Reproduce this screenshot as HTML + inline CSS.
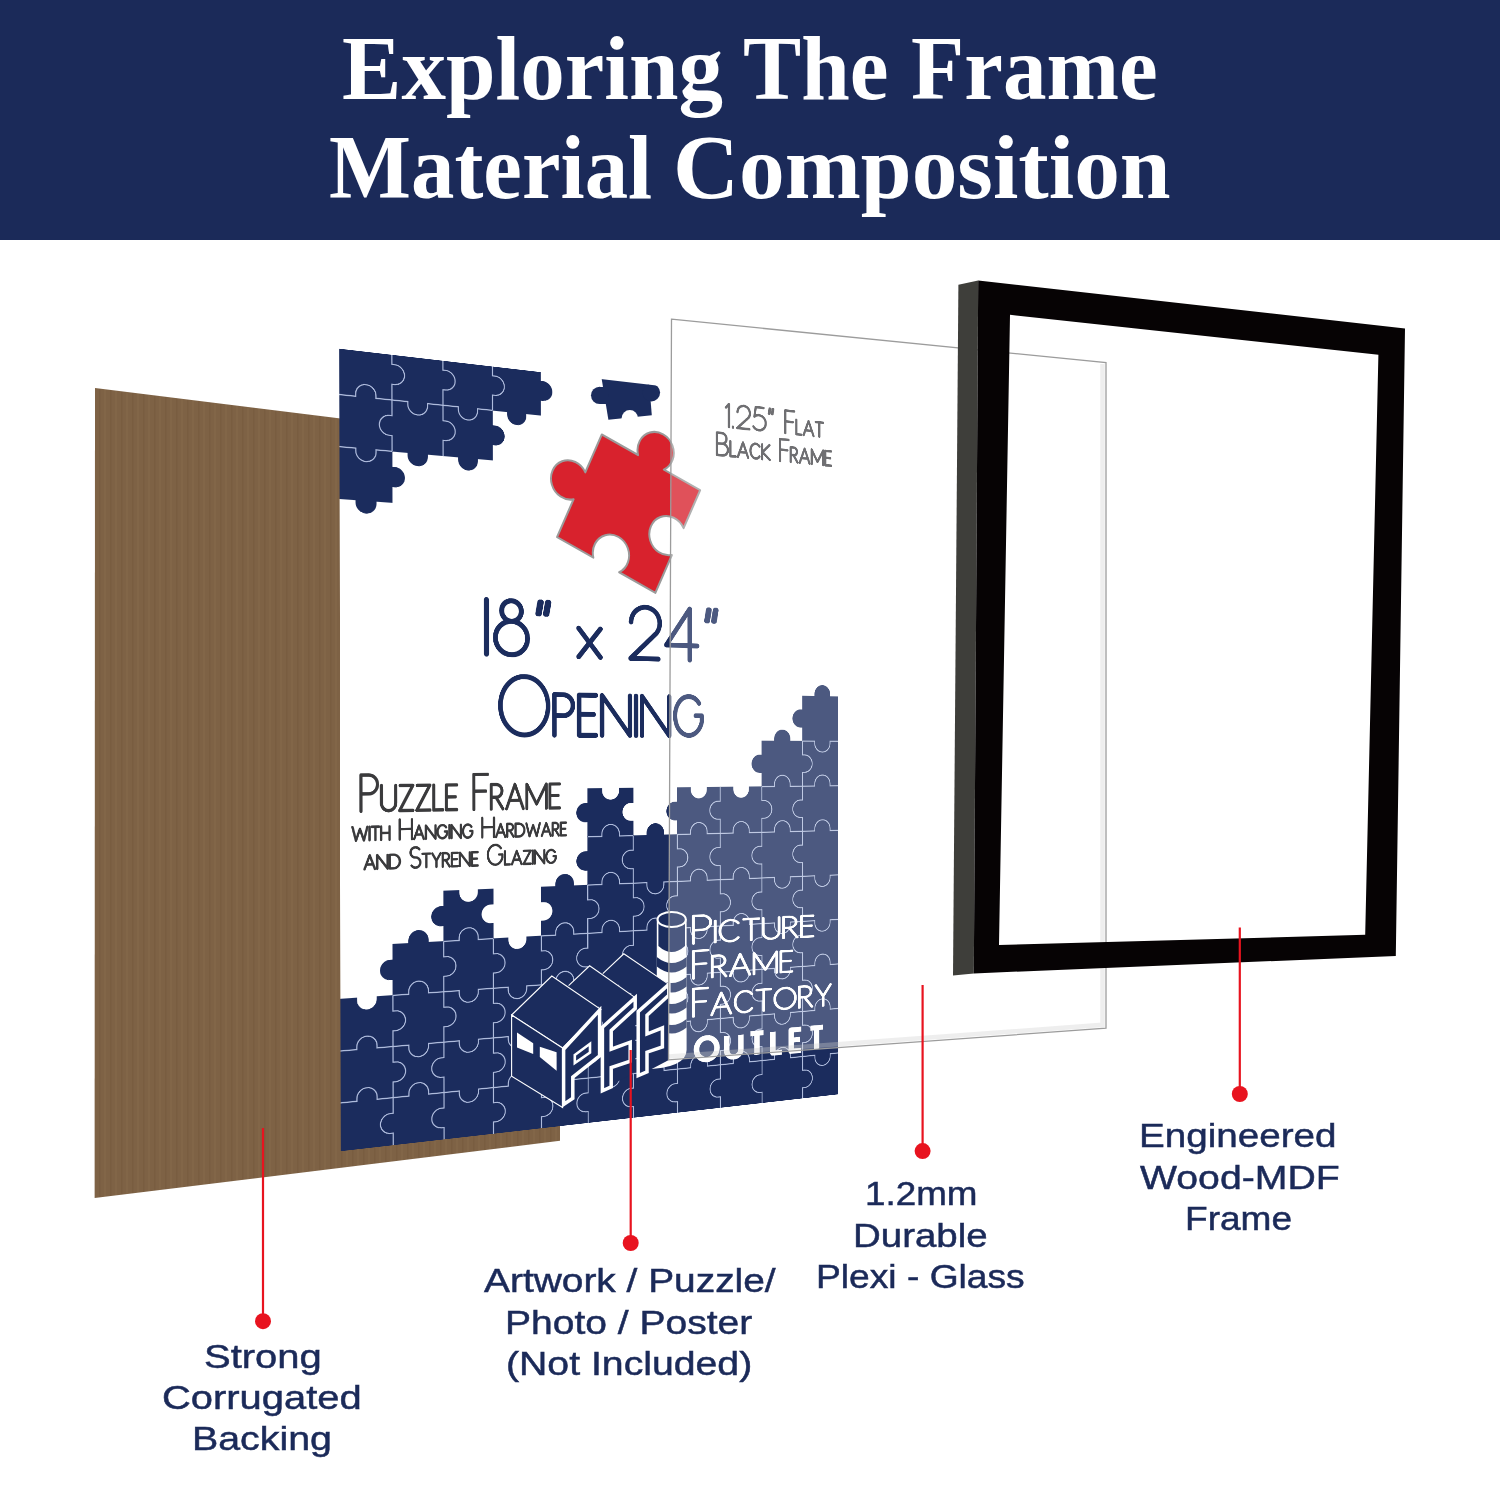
<!DOCTYPE html>
<html><head><meta charset="utf-8"><title>Frame Material Composition</title>
<style>
html,body{margin:0;padding:0;background:#fff;}
body{width:1500px;height:1500px;position:relative;overflow:hidden;font-family:"Liberation Sans",sans-serif;}
.hdr{position:absolute;left:0;top:0;width:1500px;height:240px;background:#1b2a59;}
.ttl{position:absolute;left:0;width:1500px;text-align:center;color:#fff;font-family:"Liberation Serif",serif;font-weight:bold;font-size:90px;line-height:98px;white-space:nowrap;}
.tw{position:absolute;color:#fff;font-family:"Liberation Serif",serif;font-weight:bold;font-size:90px;line-height:140px;white-space:nowrap;transform-origin:0 50%;}
svg.l{position:absolute;left:0;top:0;}
.poster{position:absolute;left:0;top:0;width:1110px;height:1563px;transform-origin:0 0;transform:matrix3d(0.5861271462,0.1156254869,0,0.0001534656448,0.001373166131,0.5216647803,0,1.36731064e-06,0,0,1,0,339.3,348.7,0,1) translate(-10px,-10px);}
.lbl{position:absolute;color:#1b2a59;font-size:34px;line-height:40px;white-space:nowrap;-webkit-text-stroke:0.5px #1b2a59;transform-origin:0 50%;}
</style></head><body>
<div class="hdr"></div>
<div class="tw" style="left:342.02px;top:-0.70px;transform:scaleX(0.9895)">Exploring</div>
<div class="tw" style="left:742.53px;top:-0.70px;transform:scaleX(0.9694)">The</div>
<div class="tw" style="left:911.06px;top:-0.70px;transform:scaleX(0.9681)">Frame</div>
<div class="tw" style="left:328.57px;top:98.40px;transform:scaleX(0.9653)">Material</div>
<div class="tw" style="left:672.94px;top:98.40px;transform:scaleX(1.0155)">Composition</div>
<svg class="l" width="1500" height="1500" viewBox="0 0 1500 1500"><defs><pattern id="corr0" width="11" height="10" patternUnits="userSpaceOnUse"><rect width="11" height="10" fill="#7e6245"/><rect x="0" width="1.5" height="10" fill="#73583c" opacity="0.5"/><rect x="5" width="2" height="10" fill="#86694b" opacity="0.5"/></pattern></defs>
<polygon points="95.0,388.0 560.0,445.7 560.0,1140.8 94.6,1198.0" fill="url(#corr0)"/></svg>
<div class="poster"><svg width="1110" height="1563" viewBox="-10 -10 1110 1563"><svg x="0" y="0" width="1090" height="1543" viewBox="0 0 1090 1543">
<rect x="0" y="0" width="1090" height="1543" fill="#ffffff"/>
<g fill="#1b2c5d" stroke="#1b2c5d" stroke-width="1.2"><path d="M0 -12H100V18.7H105A19.3 19.3 0 0 1 105 57.3H100V88H69.3V83A19.3 19.3 0 0 0 30.7 83V88H0V-12Z"/><path d="M0 88H30.7V83A19.3 19.3 0 0 1 69.3 83V88H100V118.7H95A19.3 19.3 0 0 0 95 157.3H100V188H69.3V193A19.3 19.3 0 0 1 30.7 193V188H0V88Z"/><path d="M0 188H30.7V193A19.3 19.3 0 0 0 69.3 193V188H100V218.7H105A19.3 19.3 0 0 1 105 257.3H100V288H69.3V293A19.3 19.3 0 0 1 30.7 293V288H0V188Z"/><path d="M100 -12H200V18.7H205A19.3 19.3 0 0 1 205 57.3H200V88H169.3V93A19.3 19.3 0 0 1 130.7 93V88H100V57.3H105A19.3 19.3 0 0 0 105 18.7H100V-12Z"/><path d="M100 88H130.7V93A19.3 19.3 0 0 0 169.3 93V88H200V118.7H205A19.3 19.3 0 0 1 205 157.3H200V188H169.3V193A19.3 19.3 0 0 1 130.7 193V188H100V157.3H95A19.3 19.3 0 0 1 95 118.7H100V88Z"/><path d="M200 -12H300V18.7H305A19.3 19.3 0 0 1 305 57.3H300V88H269.3V93A19.3 19.3 0 0 1 230.7 93V88H200V57.3H205A19.3 19.3 0 0 0 205 18.7H200V-12Z"/><path d="M200 88H230.7V93A19.3 19.3 0 0 0 269.3 93V88H300V118.7H305A19.3 19.3 0 0 1 305 157.3H300V188H269.3V193A19.3 19.3 0 0 1 230.7 193V188H200V157.3H205A19.3 19.3 0 0 0 205 118.7H200V88Z"/><path d="M300 -12H400V18.7H405A19.3 19.3 0 0 1 405 57.3H400V88H369.3V93A19.3 19.3 0 0 1 330.7 93V88H300V57.3H305A19.3 19.3 0 0 0 305 18.7H300V-12Z"/><path d="M0 1250H30.7V1255A19.3 19.3 0 0 0 69.3 1255V1250H100V1280.7H105A19.3 19.3 0 0 1 105 1319.3H100V1350H69.3V1345A19.3 19.3 0 0 0 30.7 1345V1350H0V1250Z"/><path d="M0 1350H30.7V1345A19.3 19.3 0 0 1 69.3 1345V1350H100V1380.7H105A19.3 19.3 0 0 1 105 1419.3H100V1450H69.3V1445A19.3 19.3 0 0 0 30.7 1445V1450H0V1350Z"/><path d="M0 1450H30.7V1445A19.3 19.3 0 0 1 69.3 1445V1450H100V1480.7H95A19.3 19.3 0 0 0 95 1519.3H100V1550H0V1450Z"/><path d="M100 1150H130.7V1145A19.3 19.3 0 0 1 169.3 1145V1150H200V1180.7H205A19.3 19.3 0 0 1 205 1219.3H200V1250H169.3V1245A19.3 19.3 0 0 0 130.7 1245V1250H100V1219.3H95A19.3 19.3 0 0 1 95 1180.7H100V1150Z"/><path d="M100 1250H130.7V1245A19.3 19.3 0 0 1 169.3 1245V1250H200V1280.7H205A19.3 19.3 0 0 1 205 1319.3H200V1350H169.3V1355A19.3 19.3 0 0 1 130.7 1355V1350H100V1319.3H105A19.3 19.3 0 0 0 105 1280.7H100V1250Z"/><path d="M100 1350H130.7V1355A19.3 19.3 0 0 0 169.3 1355V1350H200V1380.7H195A19.3 19.3 0 0 0 195 1419.3H200V1450H169.3V1445A19.3 19.3 0 0 0 130.7 1445V1450H100V1419.3H105A19.3 19.3 0 0 0 105 1380.7H100V1350Z"/><path d="M100 1450H130.7V1445A19.3 19.3 0 0 1 169.3 1445V1450H200V1480.7H195A19.3 19.3 0 0 0 195 1519.3H200V1550H100V1519.3H95A19.3 19.3 0 0 1 95 1480.7H100V1450Z"/><path d="M200 1050H230.7V1055A19.3 19.3 0 0 0 269.3 1055V1050H300V1080.7H295A19.3 19.3 0 0 0 295 1119.3H300V1150H269.3V1145A19.3 19.3 0 0 0 230.7 1145V1150H200V1119.3H195A19.3 19.3 0 0 1 195 1080.7H200V1050Z"/><path d="M200 1150H230.7V1145A19.3 19.3 0 0 1 269.3 1145V1150H300V1180.7H305A19.3 19.3 0 0 1 305 1219.3H300V1250H269.3V1255A19.3 19.3 0 0 1 230.7 1255V1250H200V1219.3H205A19.3 19.3 0 0 0 205 1180.7H200V1150Z"/><path d="M200 1250H230.7V1255A19.3 19.3 0 0 0 269.3 1255V1250H300V1280.7H305A19.3 19.3 0 0 1 305 1319.3H300V1350H269.3V1355A19.3 19.3 0 0 1 230.7 1355V1350H200V1319.3H205A19.3 19.3 0 0 0 205 1280.7H200V1250Z"/><path d="M200 1350H230.7V1355A19.3 19.3 0 0 0 269.3 1355V1350H300V1380.7H305A19.3 19.3 0 0 1 305 1419.3H300V1450H269.3V1455A19.3 19.3 0 0 1 230.7 1455V1450H200V1419.3H195A19.3 19.3 0 0 1 195 1380.7H200V1350Z"/><path d="M200 1450H230.7V1455A19.3 19.3 0 0 0 269.3 1455V1450H300V1480.7H305A19.3 19.3 0 0 1 305 1519.3H300V1550H200V1519.3H195A19.3 19.3 0 0 1 195 1480.7H200V1450Z"/><path d="M300 1150H330.7V1155A19.3 19.3 0 0 0 369.3 1155V1150H400V1180.7H405A19.3 19.3 0 0 1 405 1219.3H400V1250H369.3V1255A19.3 19.3 0 0 1 330.7 1255V1250H300V1219.3H305A19.3 19.3 0 0 0 305 1180.7H300V1150Z"/><path d="M300 1250H330.7V1255A19.3 19.3 0 0 0 369.3 1255V1250H400V1280.7H405A19.3 19.3 0 0 1 405 1319.3H400V1350H369.3V1355A19.3 19.3 0 0 1 330.7 1355V1350H300V1319.3H305A19.3 19.3 0 0 0 305 1280.7H300V1250Z"/><path d="M300 1350H330.7V1355A19.3 19.3 0 0 0 369.3 1355V1350H400V1380.7H405A19.3 19.3 0 0 1 405 1419.3H400V1450H369.3V1445A19.3 19.3 0 0 0 330.7 1445V1450H300V1419.3H305A19.3 19.3 0 0 0 305 1380.7H300V1350Z"/><path d="M300 1450H330.7V1445A19.3 19.3 0 0 1 369.3 1445V1450H400V1480.7H405A19.3 19.3 0 0 1 405 1519.3H400V1550H300V1519.3H305A19.3 19.3 0 0 0 305 1480.7H300V1450Z"/><path d="M400 1050H430.7V1045A19.3 19.3 0 0 1 469.3 1045V1050H500V1080.7H505A19.3 19.3 0 0 1 505 1119.3H500V1150H469.3V1145A19.3 19.3 0 0 0 430.7 1145V1150H400V1119.3H405A19.3 19.3 0 0 0 405 1080.7H400V1050Z"/><path d="M400 1150H430.7V1145A19.3 19.3 0 0 1 469.3 1145V1150H500V1180.7H495A19.3 19.3 0 0 0 495 1219.3H500V1250H469.3V1245A19.3 19.3 0 0 0 430.7 1245V1250H400V1219.3H405A19.3 19.3 0 0 0 405 1180.7H400V1150Z"/><path d="M400 1250H430.7V1245A19.3 19.3 0 0 1 469.3 1245V1250H500V1280.7H505A19.3 19.3 0 0 1 505 1319.3H500V1350H469.3V1355A19.3 19.3 0 0 1 430.7 1355V1350H400V1319.3H405A19.3 19.3 0 0 0 405 1280.7H400V1250Z"/><path d="M400 1350H430.7V1355A19.3 19.3 0 0 0 469.3 1355V1350H500V1380.7H505A19.3 19.3 0 0 1 505 1419.3H500V1450H469.3V1445A19.3 19.3 0 0 0 430.7 1445V1450H400V1419.3H405A19.3 19.3 0 0 0 405 1380.7H400V1350Z"/><path d="M400 1450H430.7V1445A19.3 19.3 0 0 1 469.3 1445V1450H500V1480.7H495A19.3 19.3 0 0 0 495 1519.3H500V1550H400V1519.3H405A19.3 19.3 0 0 0 405 1480.7H400V1450Z"/><path d="M500 850H530.7V855A19.3 19.3 0 0 0 569.3 855V850H600V880.7H595A19.3 19.3 0 0 0 595 919.3H600V950H569.3V945A19.3 19.3 0 0 0 530.7 945V950H500V919.3H495A19.3 19.3 0 0 1 495 880.7H500V850Z"/><path d="M500 950H530.7V945A19.3 19.3 0 0 1 569.3 945V950H600V980.7H595A19.3 19.3 0 0 0 595 1019.3H600V1050H569.3V1045A19.3 19.3 0 0 0 530.7 1045V1050H500V1019.3H495A19.3 19.3 0 0 1 495 980.7H500V950Z"/><path d="M500 1050H530.7V1045A19.3 19.3 0 0 1 569.3 1045V1050H600V1080.7H605A19.3 19.3 0 0 1 605 1119.3H600V1150H569.3V1145A19.3 19.3 0 0 0 530.7 1145V1150H500V1119.3H505A19.3 19.3 0 0 0 505 1080.7H500V1050Z"/><path d="M500 1150H530.7V1145A19.3 19.3 0 0 1 569.3 1145V1150H600V1180.7H595A19.3 19.3 0 0 0 595 1219.3H600V1250H569.3V1255A19.3 19.3 0 0 1 530.7 1255V1250H500V1219.3H495A19.3 19.3 0 0 1 495 1180.7H500V1150Z"/><path d="M500 1250H530.7V1255A19.3 19.3 0 0 0 569.3 1255V1250H600V1280.7H595A19.3 19.3 0 0 0 595 1319.3H600V1350H569.3V1345A19.3 19.3 0 0 0 530.7 1345V1350H500V1319.3H505A19.3 19.3 0 0 0 505 1280.7H500V1250Z"/><path d="M500 1350H530.7V1345A19.3 19.3 0 0 1 569.3 1345V1350H600V1380.7H605A19.3 19.3 0 0 1 605 1419.3H600V1450H569.3V1455A19.3 19.3 0 0 1 530.7 1455V1450H500V1419.3H505A19.3 19.3 0 0 0 505 1380.7H500V1350Z"/><path d="M500 1450H530.7V1455A19.3 19.3 0 0 0 569.3 1455V1450H600V1480.7H595A19.3 19.3 0 0 0 595 1519.3H600V1550H500V1519.3H495A19.3 19.3 0 0 1 495 1480.7H500V1450Z"/><path d="M600 950H630.7V945A19.3 19.3 0 0 1 669.3 945V950H700V980.7H705A19.3 19.3 0 0 1 705 1019.3H700V1050H669.3V1055A19.3 19.3 0 0 1 630.7 1055V1050H600V1019.3H595A19.3 19.3 0 0 1 595 980.7H600V950Z"/><path d="M600 1050H630.7V1055A19.3 19.3 0 0 0 669.3 1055V1050H700V1080.7H695A19.3 19.3 0 0 0 695 1119.3H700V1150H669.3V1145A19.3 19.3 0 0 0 630.7 1145V1150H600V1119.3H605A19.3 19.3 0 0 0 605 1080.7H600V1050Z"/><path d="M600 1150H630.7V1145A19.3 19.3 0 0 1 669.3 1145V1150H700V1180.7H705A19.3 19.3 0 0 1 705 1219.3H700V1250H669.3V1255A19.3 19.3 0 0 1 630.7 1255V1250H600V1219.3H595A19.3 19.3 0 0 1 595 1180.7H600V1150Z"/><path d="M600 1250H630.7V1255A19.3 19.3 0 0 0 669.3 1255V1250H700V1280.7H705A19.3 19.3 0 0 1 705 1319.3H700V1350H669.3V1345A19.3 19.3 0 0 0 630.7 1345V1350H600V1319.3H595A19.3 19.3 0 0 1 595 1280.7H600V1250Z"/><path d="M600 1350H630.7V1345A19.3 19.3 0 0 1 669.3 1345V1350H700V1380.7H695A19.3 19.3 0 0 0 695 1419.3H700V1450H669.3V1445A19.3 19.3 0 0 0 630.7 1445V1450H600V1419.3H605A19.3 19.3 0 0 0 605 1380.7H600V1350Z"/><path d="M600 1450H630.7V1445A19.3 19.3 0 0 1 669.3 1445V1450H700V1480.7H695A19.3 19.3 0 0 0 695 1519.3H700V1550H600V1519.3H595A19.3 19.3 0 0 1 595 1480.7H600V1450Z"/><path d="M700 850H730.7V855A19.3 19.3 0 0 0 769.3 855V850H800V880.7H795A19.3 19.3 0 0 0 795 919.3H800V950H769.3V945A19.3 19.3 0 0 0 730.7 945V950H700V919.3H695A19.3 19.3 0 0 1 695 880.7H700V850Z"/><path d="M700 950H730.7V945A19.3 19.3 0 0 1 769.3 945V950H800V980.7H795A19.3 19.3 0 0 0 795 1019.3H800V1050H769.3V1045A19.3 19.3 0 0 0 730.7 1045V1050H700V1019.3H705A19.3 19.3 0 0 0 705 980.7H700V950Z"/><path d="M700 1050H730.7V1045A19.3 19.3 0 0 1 769.3 1045V1050H800V1080.7H805A19.3 19.3 0 0 1 805 1119.3H800V1150H769.3V1155A19.3 19.3 0 0 1 730.7 1155V1150H700V1119.3H695A19.3 19.3 0 0 1 695 1080.7H700V1050Z"/><path d="M700 1150H730.7V1155A19.3 19.3 0 0 0 769.3 1155V1150H800V1180.7H795A19.3 19.3 0 0 0 795 1219.3H800V1250H769.3V1255A19.3 19.3 0 0 1 730.7 1255V1250H700V1219.3H705A19.3 19.3 0 0 0 705 1180.7H700V1150Z"/><path d="M700 1250H730.7V1255A19.3 19.3 0 0 0 769.3 1255V1250H800V1280.7H805A19.3 19.3 0 0 1 805 1319.3H800V1350H769.3V1355A19.3 19.3 0 0 1 730.7 1355V1350H700V1319.3H705A19.3 19.3 0 0 0 705 1280.7H700V1250Z"/><path d="M700 1350H730.7V1355A19.3 19.3 0 0 0 769.3 1355V1350H800V1380.7H805A19.3 19.3 0 0 1 805 1419.3H800V1450H769.3V1445A19.3 19.3 0 0 0 730.7 1445V1450H700V1419.3H695A19.3 19.3 0 0 1 695 1380.7H700V1350Z"/><path d="M700 1450H730.7V1445A19.3 19.3 0 0 1 769.3 1445V1450H800V1480.7H795A19.3 19.3 0 0 0 795 1519.3H800V1550H700V1519.3H695A19.3 19.3 0 0 1 695 1480.7H700V1450Z"/><path d="M800 850H830.7V855A19.3 19.3 0 0 0 869.3 855V850H900V880.7H905A19.3 19.3 0 0 1 905 919.3H900V950H869.3V945A19.3 19.3 0 0 0 830.7 945V950H800V919.3H795A19.3 19.3 0 0 1 795 880.7H800V850Z"/><path d="M800 950H830.7V945A19.3 19.3 0 0 1 869.3 945V950H900V980.7H895A19.3 19.3 0 0 0 895 1019.3H900V1050H869.3V1045A19.3 19.3 0 0 0 830.7 1045V1050H800V1019.3H795A19.3 19.3 0 0 1 795 980.7H800V950Z"/><path d="M800 1050H830.7V1045A19.3 19.3 0 0 1 869.3 1045V1050H900V1080.7H895A19.3 19.3 0 0 0 895 1119.3H900V1150H869.3V1145A19.3 19.3 0 0 0 830.7 1145V1150H800V1119.3H805A19.3 19.3 0 0 0 805 1080.7H800V1050Z"/><path d="M800 1150H830.7V1145A19.3 19.3 0 0 1 869.3 1145V1150H900V1180.7H895A19.3 19.3 0 0 0 895 1219.3H900V1250H869.3V1255A19.3 19.3 0 0 1 830.7 1255V1250H800V1219.3H795A19.3 19.3 0 0 1 795 1180.7H800V1150Z"/><path d="M800 1250H830.7V1255A19.3 19.3 0 0 0 869.3 1255V1250H900V1280.7H895A19.3 19.3 0 0 0 895 1319.3H900V1350H869.3V1355A19.3 19.3 0 0 1 830.7 1355V1350H800V1319.3H805A19.3 19.3 0 0 0 805 1280.7H800V1250Z"/><path d="M800 1350H830.7V1355A19.3 19.3 0 0 0 869.3 1355V1350H900V1380.7H895A19.3 19.3 0 0 0 895 1419.3H900V1450H869.3V1445A19.3 19.3 0 0 0 830.7 1445V1450H800V1419.3H805A19.3 19.3 0 0 0 805 1380.7H800V1350Z"/><path d="M800 1450H830.7V1445A19.3 19.3 0 0 1 869.3 1445V1450H900V1480.7H895A19.3 19.3 0 0 0 895 1519.3H900V1550H800V1519.3H795A19.3 19.3 0 0 1 795 1480.7H800V1450Z"/><path d="M900 750H930.7V745A19.3 19.3 0 0 1 969.3 745V750H1000V780.7H1005A19.3 19.3 0 0 1 1005 819.3H1000V850H969.3V845A19.3 19.3 0 0 0 930.7 845V850H900V819.3H895A19.3 19.3 0 0 1 895 780.7H900V750Z"/><path d="M900 850H930.7V845A19.3 19.3 0 0 1 969.3 845V850H1000V880.7H995A19.3 19.3 0 0 0 995 919.3H1000V950H969.3V945A19.3 19.3 0 0 0 930.7 945V950H900V919.3H905A19.3 19.3 0 0 0 905 880.7H900V850Z"/><path d="M900 950H930.7V945A19.3 19.3 0 0 1 969.3 945V950H1000V980.7H995A19.3 19.3 0 0 0 995 1019.3H1000V1050H969.3V1055A19.3 19.3 0 0 1 930.7 1055V1050H900V1019.3H895A19.3 19.3 0 0 1 895 980.7H900V950Z"/><path d="M900 1050H930.7V1055A19.3 19.3 0 0 0 969.3 1055V1050H1000V1080.7H995A19.3 19.3 0 0 0 995 1119.3H1000V1150H969.3V1155A19.3 19.3 0 0 1 930.7 1155V1150H900V1119.3H895A19.3 19.3 0 0 1 895 1080.7H900V1050Z"/><path d="M900 1150H930.7V1155A19.3 19.3 0 0 0 969.3 1155V1150H1000V1180.7H995A19.3 19.3 0 0 0 995 1219.3H1000V1250H969.3V1255A19.3 19.3 0 0 1 930.7 1255V1250H900V1219.3H895A19.3 19.3 0 0 1 895 1180.7H900V1150Z"/><path d="M900 1250H930.7V1255A19.3 19.3 0 0 0 969.3 1255V1250H1000V1280.7H1005A19.3 19.3 0 0 1 1005 1319.3H1000V1350H969.3V1355A19.3 19.3 0 0 1 930.7 1355V1350H900V1319.3H895A19.3 19.3 0 0 1 895 1280.7H900V1250Z"/><path d="M900 1350H930.7V1355A19.3 19.3 0 0 0 969.3 1355V1350H1000V1380.7H1005A19.3 19.3 0 0 1 1005 1419.3H1000V1450H969.3V1445A19.3 19.3 0 0 0 930.7 1445V1450H900V1419.3H895A19.3 19.3 0 0 1 895 1380.7H900V1350Z"/><path d="M900 1450H930.7V1445A19.3 19.3 0 0 1 969.3 1445V1450H1000V1480.7H1005A19.3 19.3 0 0 1 1005 1519.3H1000V1550H900V1519.3H895A19.3 19.3 0 0 1 895 1480.7H900V1450Z"/><path d="M1000 650H1030.7V645A19.3 19.3 0 0 1 1069.3 645V650H1100V750H1069.3V755A19.3 19.3 0 0 1 1030.7 755V750H1000V719.3H995A19.3 19.3 0 0 1 995 680.7H1000V650Z"/><path d="M1000 750H1030.7V755A19.3 19.3 0 0 0 1069.3 755V750H1100V850H1069.3V845A19.3 19.3 0 0 0 1030.7 845V850H1000V819.3H1005A19.3 19.3 0 0 0 1005 780.7H1000V750Z"/><path d="M1000 850H1030.7V845A19.3 19.3 0 0 1 1069.3 845V850H1100V950H1069.3V945A19.3 19.3 0 0 0 1030.7 945V950H1000V919.3H995A19.3 19.3 0 0 1 995 880.7H1000V850Z"/><path d="M1000 950H1030.7V945A19.3 19.3 0 0 1 1069.3 945V950H1100V1050H1069.3V1055A19.3 19.3 0 0 1 1030.7 1055V1050H1000V1019.3H995A19.3 19.3 0 0 1 995 980.7H1000V950Z"/><path d="M1000 1050H1030.7V1055A19.3 19.3 0 0 0 1069.3 1055V1050H1100V1150H1069.3V1155A19.3 19.3 0 0 1 1030.7 1155V1150H1000V1119.3H995A19.3 19.3 0 0 1 995 1080.7H1000V1050Z"/><path d="M1000 1150H1030.7V1155A19.3 19.3 0 0 0 1069.3 1155V1150H1100V1250H1069.3V1245A19.3 19.3 0 0 0 1030.7 1245V1250H1000V1219.3H995A19.3 19.3 0 0 1 995 1180.7H1000V1150Z"/><path d="M1000 1250H1030.7V1245A19.3 19.3 0 0 1 1069.3 1245V1250H1100V1350H1069.3V1345A19.3 19.3 0 0 0 1030.7 1345V1350H1000V1319.3H1005A19.3 19.3 0 0 0 1005 1280.7H1000V1250Z"/><path d="M1000 1350H1030.7V1345A19.3 19.3 0 0 1 1069.3 1345V1350H1100V1450H1069.3V1455A19.3 19.3 0 0 1 1030.7 1455V1450H1000V1419.3H1005A19.3 19.3 0 0 0 1005 1380.7H1000V1350Z"/><path d="M1000 1450H1030.7V1455A19.3 19.3 0 0 0 1069.3 1455V1450H1100V1550H1000V1519.3H1005A19.3 19.3 0 0 0 1005 1480.7H1000V1450Z"/></g>
<g fill="none" stroke="#aebbdc" stroke-width="2.3"><path d="M100 -12V18.7H105A19.3 19.3 0 0 1 105 57.3H100V88"/><path d="M0 88H30.7V83A19.3 19.3 0 0 1 69.3 83V88H100"/><path d="M100 88V118.7H95A19.3 19.3 0 0 0 95 157.3H100V188"/><path d="M0 188H30.7V193A19.3 19.3 0 0 0 69.3 193V188H100"/><path d="M200 -12V18.7H205A19.3 19.3 0 0 1 205 57.3H200V88"/><path d="M100 88H130.7V93A19.3 19.3 0 0 0 169.3 93V88H200"/><path d="M200 88V118.7H205A19.3 19.3 0 0 1 205 157.3H200V188"/><path d="M300 -12V18.7H305A19.3 19.3 0 0 1 305 57.3H300V88"/><path d="M200 88H230.7V93A19.3 19.3 0 0 0 269.3 93V88H300"/><path d="M100 1250V1280.7H105A19.3 19.3 0 0 1 105 1319.3H100V1350"/><path d="M0 1350H30.7V1345A19.3 19.3 0 0 1 69.3 1345V1350H100"/><path d="M100 1350V1380.7H105A19.3 19.3 0 0 1 105 1419.3H100V1450"/><path d="M0 1450H30.7V1445A19.3 19.3 0 0 1 69.3 1445V1450H100"/><path d="M100 1450V1480.7H95A19.3 19.3 0 0 0 95 1519.3H100V1550"/><path d="M200 1150V1180.7H205A19.3 19.3 0 0 1 205 1219.3H200V1250"/><path d="M100 1250H130.7V1245A19.3 19.3 0 0 1 169.3 1245V1250H200"/><path d="M200 1250V1280.7H205A19.3 19.3 0 0 1 205 1319.3H200V1350"/><path d="M100 1350H130.7V1355A19.3 19.3 0 0 0 169.3 1355V1350H200"/><path d="M200 1350V1380.7H195A19.3 19.3 0 0 0 195 1419.3H200V1450"/><path d="M100 1450H130.7V1445A19.3 19.3 0 0 1 169.3 1445V1450H200"/><path d="M200 1450V1480.7H195A19.3 19.3 0 0 0 195 1519.3H200V1550"/><path d="M200 1150H230.7V1145A19.3 19.3 0 0 1 269.3 1145V1150H300"/><path d="M300 1150V1180.7H305A19.3 19.3 0 0 1 305 1219.3H300V1250"/><path d="M200 1250H230.7V1255A19.3 19.3 0 0 0 269.3 1255V1250H300"/><path d="M300 1250V1280.7H305A19.3 19.3 0 0 1 305 1319.3H300V1350"/><path d="M200 1350H230.7V1355A19.3 19.3 0 0 0 269.3 1355V1350H300"/><path d="M300 1350V1380.7H305A19.3 19.3 0 0 1 305 1419.3H300V1450"/><path d="M200 1450H230.7V1455A19.3 19.3 0 0 0 269.3 1455V1450H300"/><path d="M300 1450V1480.7H305A19.3 19.3 0 0 1 305 1519.3H300V1550"/><path d="M400 1150V1180.7H405A19.3 19.3 0 0 1 405 1219.3H400V1250"/><path d="M300 1250H330.7V1255A19.3 19.3 0 0 0 369.3 1255V1250H400"/><path d="M400 1250V1280.7H405A19.3 19.3 0 0 1 405 1319.3H400V1350"/><path d="M300 1350H330.7V1355A19.3 19.3 0 0 0 369.3 1355V1350H400"/><path d="M400 1350V1380.7H405A19.3 19.3 0 0 1 405 1419.3H400V1450"/><path d="M300 1450H330.7V1445A19.3 19.3 0 0 1 369.3 1445V1450H400"/><path d="M400 1450V1480.7H405A19.3 19.3 0 0 1 405 1519.3H400V1550"/><path d="M500 1050V1080.7H505A19.3 19.3 0 0 1 505 1119.3H500V1150"/><path d="M400 1150H430.7V1145A19.3 19.3 0 0 1 469.3 1145V1150H500"/><path d="M500 1150V1180.7H495A19.3 19.3 0 0 0 495 1219.3H500V1250"/><path d="M400 1250H430.7V1245A19.3 19.3 0 0 1 469.3 1245V1250H500"/><path d="M500 1250V1280.7H505A19.3 19.3 0 0 1 505 1319.3H500V1350"/><path d="M400 1350H430.7V1355A19.3 19.3 0 0 0 469.3 1355V1350H500"/><path d="M500 1350V1380.7H505A19.3 19.3 0 0 1 505 1419.3H500V1450"/><path d="M400 1450H430.7V1445A19.3 19.3 0 0 1 469.3 1445V1450H500"/><path d="M500 1450V1480.7H495A19.3 19.3 0 0 0 495 1519.3H500V1550"/><path d="M500 950H530.7V945A19.3 19.3 0 0 1 569.3 945V950H600"/><path d="M600 950V980.7H595A19.3 19.3 0 0 0 595 1019.3H600V1050"/><path d="M500 1050H530.7V1045A19.3 19.3 0 0 1 569.3 1045V1050H600"/><path d="M600 1050V1080.7H605A19.3 19.3 0 0 1 605 1119.3H600V1150"/><path d="M500 1150H530.7V1145A19.3 19.3 0 0 1 569.3 1145V1150H600"/><path d="M600 1150V1180.7H595A19.3 19.3 0 0 0 595 1219.3H600V1250"/><path d="M500 1250H530.7V1255A19.3 19.3 0 0 0 569.3 1255V1250H600"/><path d="M600 1250V1280.7H595A19.3 19.3 0 0 0 595 1319.3H600V1350"/><path d="M500 1350H530.7V1345A19.3 19.3 0 0 1 569.3 1345V1350H600"/><path d="M600 1350V1380.7H605A19.3 19.3 0 0 1 605 1419.3H600V1450"/><path d="M500 1450H530.7V1455A19.3 19.3 0 0 0 569.3 1455V1450H600"/><path d="M600 1450V1480.7H595A19.3 19.3 0 0 0 595 1519.3H600V1550"/><path d="M700 950V980.7H705A19.3 19.3 0 0 1 705 1019.3H700V1050"/><path d="M600 1050H630.7V1055A19.3 19.3 0 0 0 669.3 1055V1050H700"/><path d="M700 1050V1080.7H695A19.3 19.3 0 0 0 695 1119.3H700V1150"/><path d="M600 1150H630.7V1145A19.3 19.3 0 0 1 669.3 1145V1150H700"/><path d="M700 1150V1180.7H705A19.3 19.3 0 0 1 705 1219.3H700V1250"/><path d="M600 1250H630.7V1255A19.3 19.3 0 0 0 669.3 1255V1250H700"/><path d="M700 1250V1280.7H705A19.3 19.3 0 0 1 705 1319.3H700V1350"/><path d="M600 1350H630.7V1345A19.3 19.3 0 0 1 669.3 1345V1350H700"/><path d="M700 1350V1380.7H695A19.3 19.3 0 0 0 695 1419.3H700V1450"/><path d="M600 1450H630.7V1445A19.3 19.3 0 0 1 669.3 1445V1450H700"/><path d="M700 1450V1480.7H695A19.3 19.3 0 0 0 695 1519.3H700V1550"/><path d="M800 850V880.7H795A19.3 19.3 0 0 0 795 919.3H800V950"/><path d="M700 950H730.7V945A19.3 19.3 0 0 1 769.3 945V950H800"/><path d="M800 950V980.7H795A19.3 19.3 0 0 0 795 1019.3H800V1050"/><path d="M700 1050H730.7V1045A19.3 19.3 0 0 1 769.3 1045V1050H800"/><path d="M800 1050V1080.7H805A19.3 19.3 0 0 1 805 1119.3H800V1150"/><path d="M700 1150H730.7V1155A19.3 19.3 0 0 0 769.3 1155V1150H800"/><path d="M800 1150V1180.7H795A19.3 19.3 0 0 0 795 1219.3H800V1250"/><path d="M700 1250H730.7V1255A19.3 19.3 0 0 0 769.3 1255V1250H800"/><path d="M800 1250V1280.7H805A19.3 19.3 0 0 1 805 1319.3H800V1350"/><path d="M700 1350H730.7V1355A19.3 19.3 0 0 0 769.3 1355V1350H800"/><path d="M800 1350V1380.7H805A19.3 19.3 0 0 1 805 1419.3H800V1450"/><path d="M700 1450H730.7V1445A19.3 19.3 0 0 1 769.3 1445V1450H800"/><path d="M800 1450V1480.7H795A19.3 19.3 0 0 0 795 1519.3H800V1550"/><path d="M900 850V880.7H905A19.3 19.3 0 0 1 905 919.3H900V950"/><path d="M800 950H830.7V945A19.3 19.3 0 0 1 869.3 945V950H900"/><path d="M900 950V980.7H895A19.3 19.3 0 0 0 895 1019.3H900V1050"/><path d="M800 1050H830.7V1045A19.3 19.3 0 0 1 869.3 1045V1050H900"/><path d="M900 1050V1080.7H895A19.3 19.3 0 0 0 895 1119.3H900V1150"/><path d="M800 1150H830.7V1145A19.3 19.3 0 0 1 869.3 1145V1150H900"/><path d="M900 1150V1180.7H895A19.3 19.3 0 0 0 895 1219.3H900V1250"/><path d="M800 1250H830.7V1255A19.3 19.3 0 0 0 869.3 1255V1250H900"/><path d="M900 1250V1280.7H895A19.3 19.3 0 0 0 895 1319.3H900V1350"/><path d="M800 1350H830.7V1355A19.3 19.3 0 0 0 869.3 1355V1350H900"/><path d="M900 1350V1380.7H895A19.3 19.3 0 0 0 895 1419.3H900V1450"/><path d="M800 1450H830.7V1445A19.3 19.3 0 0 1 869.3 1445V1450H900"/><path d="M900 1450V1480.7H895A19.3 19.3 0 0 0 895 1519.3H900V1550"/><path d="M1000 750V780.7H1005A19.3 19.3 0 0 1 1005 819.3H1000V850"/><path d="M900 850H930.7V845A19.3 19.3 0 0 1 969.3 845V850H1000"/><path d="M1000 850V880.7H995A19.3 19.3 0 0 0 995 919.3H1000V950"/><path d="M900 950H930.7V945A19.3 19.3 0 0 1 969.3 945V950H1000"/><path d="M1000 950V980.7H995A19.3 19.3 0 0 0 995 1019.3H1000V1050"/><path d="M900 1050H930.7V1055A19.3 19.3 0 0 0 969.3 1055V1050H1000"/><path d="M1000 1050V1080.7H995A19.3 19.3 0 0 0 995 1119.3H1000V1150"/><path d="M900 1150H930.7V1155A19.3 19.3 0 0 0 969.3 1155V1150H1000"/><path d="M1000 1150V1180.7H995A19.3 19.3 0 0 0 995 1219.3H1000V1250"/><path d="M900 1250H930.7V1255A19.3 19.3 0 0 0 969.3 1255V1250H1000"/><path d="M1000 1250V1280.7H1005A19.3 19.3 0 0 1 1005 1319.3H1000V1350"/><path d="M900 1350H930.7V1355A19.3 19.3 0 0 0 969.3 1355V1350H1000"/><path d="M1000 1350V1380.7H1005A19.3 19.3 0 0 1 1005 1419.3H1000V1450"/><path d="M900 1450H930.7V1445A19.3 19.3 0 0 1 969.3 1445V1450H1000"/><path d="M1000 1450V1480.7H1005A19.3 19.3 0 0 1 1005 1519.3H1000V1550"/><path d="M1000 750H1030.7V755A19.3 19.3 0 0 0 1069.3 755V750H1100"/><path d="M1000 850H1030.7V845A19.3 19.3 0 0 1 1069.3 845V850H1100"/><path d="M1000 950H1030.7V945A19.3 19.3 0 0 1 1069.3 945V950H1100"/><path d="M1000 1050H1030.7V1055A19.3 19.3 0 0 0 1069.3 1055V1050H1100"/><path d="M1000 1150H1030.7V1155A19.3 19.3 0 0 0 1069.3 1155V1150H1100"/><path d="M1000 1250H1030.7V1245A19.3 19.3 0 0 1 1069.3 1245V1250H1100"/><path d="M1000 1350H1030.7V1345A19.3 19.3 0 0 1 1069.3 1345V1350H1100"/><path d="M1000 1450H1030.7V1455A19.3 19.3 0 0 0 1069.3 1455V1450H1100"/></g>
<g fill="none" stroke="#1b2c5d" stroke-linecap="round" stroke-linejoin="round" ><path transform="translate(287.00 577.84) scale(1.0759 1.0915)" stroke-width="9.59" d="M0 0V-100"/><path transform="translate(305.29 577.84) scale(1.0759 1.0915)" stroke-width="9.59" d="M31 -62A19 19 0 1 0 31 -100A19 19 0 1 0 31 -62A31 31 0 1 0 31 0A31 31 0 1 0 31 -62Z"/><path transform="translate(390.28 577.84) scale(1.0759 1.0915)" stroke-width="9.59" d="M7 -100L3 -78M10 -100L6 -78M22 -100L18 -78M25 -100L21 -78"/><path transform="translate(480.66 577.84) scale(1.0759 1.0915)" stroke-width="9.59" d="M0 -54L44 0M44 -54L0 0"/><path transform="translate(592.55 577.84) scale(1.0759 1.0915)" stroke-width="9.59" d="M3 -70A30 30 0 1 1 56 -50L2 0H60"/><path transform="translate(675.39 577.84) scale(1.0759 1.0915)" stroke-width="9.59" d="M50 0V-100L0 -28H66"/><path transform="translate(764.69 577.84) scale(1.0759 1.0915)" stroke-width="9.59" d="M7 -100L3 -78M10 -100L6 -78M22 -100L18 -78M25 -100L21 -78"/></g>
<g fill="none" stroke="#1b2c5d" stroke-linecap="round" stroke-linejoin="round" ><path transform="translate(315.50 739.83) scale(1.1312 1.1852)" stroke-width="8.62" d="M44 -100A44 50 0 1 0 44 0A44 50 0 1 0 44 -100Z"/><path transform="translate(428.50 739.83) scale(0.7918 0.8296)" stroke-width="12.31" d="M0 0V-100H24A26 26 0 0 1 24 -48H0"/><path transform="translate(481.56 739.83) scale(0.7918 0.8296)" stroke-width="12.31" d="M46 0H0V-100H46M0 -52H40"/><path transform="translate(531.44 739.83) scale(0.7918 0.8296)" stroke-width="12.31" d="M0 0V-100L78 0V-100"/><path transform="translate(606.66 739.83) scale(0.7918 0.8296)" stroke-width="12.31" d="M0 0V-100"/><path transform="translate(620.12 739.83) scale(0.7918 0.8296)" stroke-width="12.31" d="M0 0V-100L78 0V-100"/><path transform="translate(695.35 739.83) scale(0.7918 0.8296)" stroke-width="12.31" d="M70 -84A40 50 0 1 0 78 -36V-52H60"/></g>
<g fill="none" stroke="#3a3a3c" stroke-linecap="round" stroke-linejoin="round" ><path transform="translate(39.41 889.15) scale(0.6311 0.6972)" stroke-width="9.60" d="M0 0V-100H24A26 26 0 0 1 24 -48H0"/><path transform="translate(78.53 889.15) scale(0.4449 0.4915)" stroke-width="13.61" d="M0 -100V-31A31 31 0 0 0 62 -31V-100"/><path transform="translate(113.68 889.15) scale(0.4449 0.4915)" stroke-width="13.61" d="M2 -100H58L0 0H58"/><path transform="translate(147.04 889.15) scale(0.4449 0.4915)" stroke-width="13.61" d="M2 -100H58L0 0H58"/><path transform="translate(180.41 889.15) scale(0.4449 0.4915)" stroke-width="13.61" d="M0 -100V0H40"/><path transform="translate(205.77 889.15) scale(0.4449 0.4915)" stroke-width="13.61" d="M46 0H0V-100H46M0 -52H40"/><path transform="translate(260.94 889.15) scale(0.6311 0.6972)" stroke-width="9.60" d="M0 0V-100H44M0 -52H38"/><path transform="translate(296.27 889.15) scale(0.4449 0.4915)" stroke-width="13.61" d="M0 0V-100H24A26 26 0 0 1 24 -48H0M22 -48L54 0"/><path transform="translate(327.85 889.15) scale(0.4449 0.4915)" stroke-width="13.61" d="M0 0L39 -100L78 0M14 -34H64"/><path transform="translate(370.12 889.15) scale(0.4449 0.4915)" stroke-width="13.61" d="M0 0V-100L46 -18L92 -100V0"/><path transform="translate(418.61 889.15) scale(0.4449 0.4915)" stroke-width="13.61" d="M46 0H0V-100H46M0 -52H40"/></g>
<g fill="none" stroke="#3a3a3c" stroke-linecap="round" stroke-linejoin="round" ><path transform="translate(23.23 945.81) scale(0.2431 0.2615)" stroke-width="18.94" d="M0 -100L27 0L58 -86L89 0L116 -100"/><path transform="translate(55.56 945.81) scale(0.2431 0.2615)" stroke-width="18.94" d="M0 0V-100"/><path transform="translate(59.70 945.81) scale(0.2431 0.2615)" stroke-width="18.94" d="M0 -100H58M29 -100V0"/><path transform="translate(77.93 945.81) scale(0.2431 0.2615)" stroke-width="18.94" d="M0 0V-100M66 0V-100M0 -52H66"/><path transform="translate(113.71 945.81) scale(0.3629 0.3903)" stroke-width="12.69" d="M0 0V-100M66 0V-100M0 -52H66"/><path transform="translate(141.79 945.81) scale(0.2431 0.2615)" stroke-width="18.94" d="M0 0L39 -100L78 0M14 -34H64"/><path transform="translate(164.89 945.81) scale(0.2431 0.2615)" stroke-width="18.94" d="M0 0V-100L78 0V-100"/><path transform="translate(187.99 945.81) scale(0.2431 0.2615)" stroke-width="18.94" d="M70 -84A40 50 0 1 0 78 -36V-52H60"/><path transform="translate(211.57 945.81) scale(0.2431 0.2615)" stroke-width="18.94" d="M0 0V-100"/><path transform="translate(215.70 945.81) scale(0.2431 0.2615)" stroke-width="18.94" d="M0 0V-100L78 0V-100"/><path transform="translate(238.80 945.81) scale(0.2431 0.2615)" stroke-width="18.94" d="M70 -84A40 50 0 1 0 78 -36V-52H60"/><path transform="translate(277.99 945.81) scale(0.3629 0.3903)" stroke-width="12.69" d="M0 0V-100M66 0V-100M0 -52H66"/><path transform="translate(306.07 945.81) scale(0.2431 0.2615)" stroke-width="18.94" d="M0 0L39 -100L78 0M14 -34H64"/><path transform="translate(329.17 945.81) scale(0.2431 0.2615)" stroke-width="18.94" d="M0 0V-100H24A26 26 0 0 1 24 -48H0M22 -48L54 0"/><path transform="translate(346.43 945.81) scale(0.2431 0.2615)" stroke-width="18.94" d="M0 0V-100H26A50 50 0 0 1 26 0H0"/><path transform="translate(369.04 945.81) scale(0.2431 0.2615)" stroke-width="18.94" d="M0 -100L27 0L58 -86L89 0L116 -100"/><path transform="translate(401.38 945.81) scale(0.2431 0.2615)" stroke-width="18.94" d="M0 0L39 -100L78 0M14 -34H64"/><path transform="translate(424.47 945.81) scale(0.2431 0.2615)" stroke-width="18.94" d="M0 0V-100H24A26 26 0 0 1 24 -48H0M22 -48L54 0"/><path transform="translate(441.73 945.81) scale(0.2431 0.2615)" stroke-width="18.94" d="M46 0H0V-100H46M0 -52H40"/></g>
<g fill="none" stroke="#3a3a3c" stroke-linecap="round" stroke-linejoin="round" ><path transform="translate(45.88 1001.81) scale(0.2560 0.2669)" stroke-width="18.29" d="M0 0L39 -100L78 0M14 -34H64"/><path transform="translate(70.19 1001.81) scale(0.2560 0.2669)" stroke-width="18.29" d="M0 0V-100L78 0V-100"/><path transform="translate(94.51 1001.81) scale(0.2560 0.2669)" stroke-width="18.29" d="M0 0V-100H26A50 50 0 0 1 26 0H0"/><path transform="translate(134.74 1001.81) scale(0.3820 0.3984)" stroke-width="12.25" d="M45 -90A25 25 0 1 0 25 -50A25 25 0 1 1 5 -10"/><path transform="translate(158.20 1001.81) scale(0.2560 0.2669)" stroke-width="18.29" d="M0 -100H58M29 -100V0"/><path transform="translate(177.40 1001.81) scale(0.2560 0.2669)" stroke-width="18.29" d="M0 -100L32 -46L64 -100M32 -46V0"/><path transform="translate(198.13 1001.81) scale(0.2560 0.2669)" stroke-width="18.29" d="M0 0V-100H24A26 26 0 0 1 24 -48H0M22 -48L54 0"/><path transform="translate(216.30 1001.81) scale(0.2560 0.2669)" stroke-width="18.29" d="M46 0H0V-100H46M0 -52H40"/><path transform="translate(232.43 1001.81) scale(0.2560 0.2669)" stroke-width="18.29" d="M0 0V-100L78 0V-100"/><path transform="translate(256.75 1001.81) scale(0.2560 0.2669)" stroke-width="18.29" d="M46 0H0V-100H46M0 -52H40"/><path transform="translate(289.30 1001.81) scale(0.3820 0.3984)" stroke-width="12.25" d="M70 -84A40 50 0 1 0 78 -36V-52H60"/><path transform="translate(324.21 1001.81) scale(0.2560 0.2669)" stroke-width="18.29" d="M0 -100V0H40"/><path transform="translate(338.80 1001.81) scale(0.2560 0.2669)" stroke-width="18.29" d="M0 0L39 -100L78 0M14 -34H64"/><path transform="translate(363.12 1001.81) scale(0.2560 0.2669)" stroke-width="18.29" d="M2 -100H58L0 0H58"/><path transform="translate(382.32 1001.81) scale(0.2560 0.2669)" stroke-width="18.29" d="M0 0V-100"/><path transform="translate(386.67 1001.81) scale(0.2560 0.2669)" stroke-width="18.29" d="M0 0V-100L78 0V-100"/><path transform="translate(410.99 1001.81) scale(0.2560 0.2669)" stroke-width="18.29" d="M70 -84A40 50 0 1 0 78 -36V-52H60"/></g>
<g fill="none" stroke="#48484c" stroke-linecap="round" stroke-linejoin="round" ><path transform="translate(814.54 71.52) scale(0.4973 0.4966)" stroke-width="11.05" d="M0 -84L14 -100V0"/><path transform="translate(829.96 71.52) scale(0.4973 0.4966)" stroke-width="11.05" d="M2 -3V0"/><path transform="translate(840.40 71.52) scale(0.4973 0.4966)" stroke-width="11.05" d="M3 -70A30 30 0 1 1 56 -50L2 0H60"/><path transform="translate(878.70 71.52) scale(0.4973 0.4966)" stroke-width="11.05" d="M52 -100H14L8 -58A33 33 0 1 1 3 -14"/><path transform="translate(915.99 71.52) scale(0.4973 0.4966)" stroke-width="11.05" d="M7 -100L3 -78M10 -100L6 -78M22 -100L18 -78M25 -100L21 -78"/><path transform="translate(957.77 71.52) scale(0.4973 0.4966)" stroke-width="11.05" d="M0 0V-100H44M0 -52H38"/><path transform="translate(985.06 71.52) scale(0.3183 0.3178)" stroke-width="17.27" d="M0 -100V0H40"/><path transform="translate(1003.20 71.52) scale(0.3183 0.3178)" stroke-width="17.27" d="M0 0L39 -100L78 0M14 -34H64"/><path transform="translate(1033.44 71.52) scale(0.3183 0.3178)" stroke-width="17.27" d="M0 -100H58M29 -100V0"/></g>
<g fill="none" stroke="#48484c" stroke-linecap="round" stroke-linejoin="round" ><path transform="translate(793.22 133.86) scale(0.4696 0.4789)" stroke-width="11.58" d="M0 0V-100H24A24 24 0 0 1 24 -52H0M24 -52H29A26 26 0 0 1 29 0H0"/><path transform="translate(824.87 133.86) scale(0.3146 0.3209)" stroke-width="17.28" d="M0 -100V0H40"/><path transform="translate(842.80 133.86) scale(0.3146 0.3209)" stroke-width="17.28" d="M0 0L39 -100L78 0M14 -34H64"/><path transform="translate(872.69 133.86) scale(0.3146 0.3209)" stroke-width="17.28" d="M70 -84A40 50 0 1 0 70 -16"/><path transform="translate(901.33 133.86) scale(0.3146 0.3209)" stroke-width="17.28" d="M0 0V-100M56 -100L2 -48L58 0"/><path transform="translate(945.12 133.86) scale(0.4696 0.4789)" stroke-width="11.58" d="M0 0V-100H44M0 -52H38"/><path transform="translate(971.13 133.86) scale(0.3146 0.3209)" stroke-width="17.28" d="M0 0V-100H24A26 26 0 0 1 24 -48H0M22 -48L54 0"/><path transform="translate(993.47 133.86) scale(0.3146 0.3209)" stroke-width="17.28" d="M0 0L39 -100L78 0M14 -34H64"/><path transform="translate(1023.36 133.86) scale(0.3146 0.3209)" stroke-width="17.28" d="M0 0V-100L46 -18L92 -100V0"/><path transform="translate(1057.65 133.86) scale(0.3146 0.3209)" stroke-width="17.28" d="M46 0H0V-100H46M0 -52H40"/></g>
<g fill="none" stroke="#ffffff" stroke-linecap="round" stroke-linejoin="round" ><path transform="translate(737.33 1184.35) scale(0.8045 0.5892)" stroke-width="8.77" d="M0 0V-100H24A26 26 0 0 1 24 -48H0"/><path transform="translate(788.23 1184.35) scale(0.6275 0.4595)" stroke-width="11.24" d="M0 0V-100"/><path transform="translate(798.90 1184.35) scale(0.6275 0.4595)" stroke-width="11.24" d="M70 -84A40 50 0 1 0 70 -16"/><path transform="translate(856.00 1184.35) scale(0.6275 0.4595)" stroke-width="11.24" d="M0 -100H58M29 -100V0"/><path transform="translate(903.07 1184.35) scale(0.6275 0.4595)" stroke-width="11.24" d="M0 -100V-31A31 31 0 0 0 62 -31V-100"/><path transform="translate(952.64 1184.35) scale(0.6275 0.4595)" stroke-width="11.24" d="M0 0V-100H24A26 26 0 0 1 24 -48H0M22 -48L54 0"/><path transform="translate(997.20 1184.35) scale(0.6275 0.4595)" stroke-width="11.24" d="M46 0H0V-100H46M0 -52H40"/></g>
<g fill="none" stroke="#ffffff" stroke-linecap="round" stroke-linejoin="round" ><path transform="translate(737.26 1259.33) scale(0.7683 0.5872)" stroke-width="8.98" d="M0 0V-100H44M0 -52H38"/><path transform="translate(781.26 1259.33) scale(0.5993 0.4580)" stroke-width="11.52" d="M0 0V-100H24A26 26 0 0 1 24 -48H0M22 -48L54 0"/><path transform="translate(823.81 1259.33) scale(0.5993 0.4580)" stroke-width="11.52" d="M0 0L39 -100L78 0M14 -34H64"/><path transform="translate(880.74 1259.33) scale(0.5993 0.4580)" stroke-width="11.52" d="M0 0V-100L46 -18L92 -100V0"/><path transform="translate(946.06 1259.33) scale(0.5993 0.4580)" stroke-width="11.52" d="M46 0H0V-100H46M0 -52H40"/></g>
<g fill="none" stroke="#ffffff" stroke-linecap="round" stroke-linejoin="round" ><path transform="translate(737.19 1340.76) scale(0.7433 0.5908)" stroke-width="9.19" d="M0 0V-100H44M0 -52H38"/><path transform="translate(779.75 1340.76) scale(0.5797 0.4609)" stroke-width="11.78" d="M0 0L39 -100L78 0M14 -34H64"/><path transform="translate(834.83 1340.76) scale(0.5797 0.4609)" stroke-width="11.78" d="M70 -84A40 50 0 1 0 70 -16"/><path transform="translate(887.58 1340.76) scale(0.5797 0.4609)" stroke-width="11.78" d="M0 -100H58M29 -100V0"/><path transform="translate(931.07 1340.76) scale(0.5797 0.4609)" stroke-width="11.78" d="M44 -100A44 50 0 1 0 44 0A44 50 0 1 0 44 -100Z"/><path transform="translate(991.94 1340.76) scale(0.5797 0.4609)" stroke-width="11.78" d="M0 0V-100H24A26 26 0 0 1 24 -48H0M22 -48L54 0"/><path transform="translate(1033.10 1340.76) scale(0.5797 0.4609)" stroke-width="11.78" d="M0 -100L32 -46L64 -100M32 -46V0"/></g>
<g fill="none" stroke="#ffffff" stroke-linecap="butt" stroke-linejoin="round" ><path transform="translate(744.09 1435.90) scale(0.5463 0.4701)" stroke-width="24.09" d="M44 -100A44 50 0 1 0 44 0A44 50 0 1 0 44 -100Z"/><path transform="translate(815.11 1435.90) scale(0.5463 0.4701)" stroke-width="24.09" d="M0 -100V-31A31 31 0 0 0 62 -31V-100"/><path transform="translate(871.93 1435.90) scale(0.5463 0.4701)" stroke-width="24.09" d="M0 -100H58M29 -100V0"/><path transform="translate(926.57 1435.90) scale(0.5463 0.4701)" stroke-width="24.09" d="M0 -100V0H40"/><path transform="translate(971.37 1435.90) scale(0.5463 0.4701)" stroke-width="24.09" d="M46 0H0V-100H46M0 -52H40"/><path transform="translate(1019.45 1435.90) scale(0.5463 0.4701)" stroke-width="24.09" d="M0 -100H58M29 -100V0"/></g>
</svg></svg></div>
<svg class="l" width="1500" height="1500" viewBox="0 0 1500 1500">
<defs><clipPath id="pc"><polygon points="339.3,348.7 838.0,406.7 838.3,1094.3 340.7,1151.2"/></clipPath><pattern id="corr" width="7" height="10" patternUnits="userSpaceOnUse"><rect width="7" height="10" fill="#8c6c48"/><rect x="0" width="1.2" height="10" fill="#80623f" opacity="0.55"/><rect x="3.5" width="1" height="10" fill="#957552" opacity="0.5"/></pattern></defs>
<g clip-path="url(#pc)" fill="#1b2c5d"><polygon points="601.2,376 649,381 651.8,415.2 608.4,419.8"/><circle cx="651.3" cy="392.6" r="8.8"/><circle cx="599.6" cy="395.3" r="8.6"/><rect x="600" y="387" width="8" height="17"/><circle cx="629.8" cy="418.2" r="8.2" fill="#fff"/></g>
<path transform="matrix(0.9830 0.5570 -0.4470 1.0260 601.8 434.5)" d="M0 0H36.89A16.8 16.8 0 1 1 63.11 0H100V36.89A16.8 16.8 0 1 0 100 63.11V100H63.11A16.8 16.8 0 1 0 36.89 100H0V63.11A16.8 16.8 0 1 1 0 36.89Z" fill="#d8222d" stroke="#9b9b9b" stroke-width="1.8" stroke-linejoin="round"/>
<path d="M656.8 919 V1056 Q656.8 1064 642.8 1067 L643.8 1069.5 Q686.6 1068 686.6 1050 V919 Z" fill="#fff"/><path d="M658.4 921 V946 Q671.7 958 685.0 946 V921 Z" fill="#1b2c5d"/><path d="M656.8 957 Q671.7 969 686.6 957 V966.5 Q671.7 978.5 656.8 966.5 Z" fill="#1b2c5d"/><path d="M656.8 977 Q671.7 989 686.6 977 V986.5 Q671.7 998.5 656.8 986.5 Z" fill="#1b2c5d"/><path d="M656.8 998 Q671.7 1010 686.6 998 V1007.5 Q671.7 1019.5 656.8 1007.5 Z" fill="#1b2c5d"/><path d="M656.8 1019 Q671.7 1031 686.6 1019 V1027.5 Q671.7 1039.5 656.8 1027.5 Z" fill="#1b2c5d"/><ellipse cx="671.7" cy="919.5" rx="14.100000000000033" ry="7.6" fill="#1b2c5d" stroke="#fff" stroke-width="2"/><polygon points="602.8,973.6 623.8,953.8 668.8,984.4 668.8,1060.0 637.0,1076.8 637.0,997.6" fill="#1b2c5d" stroke="none" stroke-width="0" stroke-linejoin="miter" /><polygon points="568.6,985.6 589.6,965.8 635.2,997.6 635.2,1072.0 602.8,1090.0 602.8,1009.6" fill="#1b2c5d" stroke="none" stroke-width="0" stroke-linejoin="miter" /><polyline points="602.8,973.6 623.8,953.8 668.8,984.4" fill="none" stroke="#fff" stroke-width="1.1"/><polyline points="568.6,985.6 589.6,965.8 635.2,997.6" fill="none" stroke="#fff" stroke-width="1.1"/><polygon points="511.6,1015.0 551.8,976.0 601.0,1009.6 562.6,1048.0 562.6,1107.4 511.6,1076.2" fill="#1b2c5d" stroke="none" stroke-width="0" stroke-linejoin="miter" /><polygon points="511.6,1015.0 551.8,976.0 601.0,1009.6 562.6,1048.0" fill="#1b2c5d" stroke="#fff" stroke-width="1.1" stroke-linejoin="miter" /><polygon points="511.6,1015.0 562.6,1048.0 562.6,1107.4 511.6,1076.2" fill="#1b2c5d" stroke="#fff" stroke-width="1.1" stroke-linejoin="miter" /><polygon points="517.0,1032.4 533.2,1043.2 533.2,1054.0 517.0,1047.4" fill="#fff" stroke="none" stroke-width="0" stroke-linejoin="miter" /><polygon points="539.8,1046.8 556.6,1052.2 556.6,1070.8 539.8,1057.0" fill="#fff" stroke="none" stroke-width="0" stroke-linejoin="miter" /><polygon points="563.6,1104.4 563.6,1049.2 599.6,1010.2 599.6,1056.0 572.8,1077.0 572.8,1098.2" fill="#1b2c5d" stroke="#fff" stroke-width="3.5" stroke-linejoin="miter" /><polygon points="574.8,1055.0 590.0,1043.8 590.0,1052.6 574.8,1063.0" fill="#1b2c5d" stroke="#fff" stroke-width="2.6" stroke-linejoin="miter" /><polygon points="602.4,1090.8 602.4,1027.2 635.2,997.6 635.2,1008.4 611.2,1030.4 611.2,1049.2 630.2,1042.2 630.2,1061.2 611.2,1067.6 611.2,1086.8" fill="#1b2c5d" stroke="#fff" stroke-width="3.5" stroke-linejoin="miter" /><polygon points="638.2,1075.6 638.2,1011.6 668.8,984.4 668.8,995.2 647.0,1015.2 647.0,1034.0 662.4,1027.8 662.4,1047.0 647.0,1052.2 647.0,1071.8" fill="#1b2c5d" stroke="#fff" stroke-width="3.5" stroke-linejoin="miter" />
<polygon points="671.5,319.2 1106.0,362.6 1106.0,1028.2 668.5,1059.8" fill="#ffffff" fill-opacity="0.215" stroke="none"/>
<polyline points="1102.5,364.0 1102.5,1024.8 669.0,1056.6" fill="none" stroke="#cfcfcf" stroke-opacity="0.35" stroke-width="4.5"/>
<polygon points="671.5,319.2 1106.0,362.6 1106.0,1028.2 668.5,1059.8" fill="none" stroke="#9c9c9c" stroke-width="1.3"/>
<polygon points="958.4,284.8 978.2,280.4 973.8,973.4 953.0,975.4" fill="#3e3e3a"/>
<path d="M978.2 280.4 L1405 328.4 L1395.8 956 L973.8 973.4Z M1010 314.8 L1378.4 354.8 L1365.2 934.8 L999 945Z" fill="#060304" fill-rule="evenodd"/>
<line x1="263" y1="1128" x2="263" y2="1321.2" stroke="#e8131f" stroke-width="2.2"/><circle cx="263" cy="1321.2" r="8" fill="#e8131f"/>
<line x1="630.7" y1="1050" x2="630.7" y2="1243" stroke="#e8131f" stroke-width="2.2"/><circle cx="630.7" cy="1243" r="8" fill="#e8131f"/>
<line x1="922.6" y1="985" x2="922.6" y2="1151.1" stroke="#e8131f" stroke-width="2.2"/><circle cx="922.6" cy="1151.1" r="8" fill="#e8131f"/>
<line x1="1239.8" y1="927.5" x2="1239.8" y2="1094" stroke="#e8131f" stroke-width="2.2"/><circle cx="1239.8" cy="1094" r="8" fill="#e8131f"/>
</svg>
<div class="lbl" style="left:204.32px;top:1335.60px;transform:scaleX(1.1753)">Strong</div>
<div class="lbl" style="left:162.25px;top:1377.00px;transform:scaleX(1.1735)">Corrugated</div>
<div class="lbl" style="left:191.73px;top:1418.40px;transform:scaleX(1.1569)">Backing</div>
<div class="lbl" style="left:483.90px;top:1260.30px;transform:scaleX(1.1435)">Artwork / Puzzle/</div>
<div class="lbl" style="left:505.36px;top:1301.90px;transform:scaleX(1.1472)">Photo / Poster</div>
<div class="lbl" style="left:506.09px;top:1342.90px;transform:scaleX(1.1529)">(Not Included)</div>
<div class="lbl" style="left:865.33px;top:1173.10px;transform:scaleX(1.0830)">1.2mm</div>
<div class="lbl" style="left:853.31px;top:1214.80px;transform:scaleX(1.1304)">Durable</div>
<div class="lbl" style="left:816.42px;top:1256.10px;transform:scaleX(1.0936)">Plexi - Glass</div>
<div class="lbl" style="left:1138.99px;top:1115.40px;transform:scaleX(1.1361)">Engineered</div>
<div class="lbl" style="left:1140.00px;top:1156.80px;transform:scaleX(1.1535)">Wood-MDF</div>
<div class="lbl" style="left:1184.73px;top:1198.10px;transform:scaleX(1.0894)">Frame</div>
</body></html>
